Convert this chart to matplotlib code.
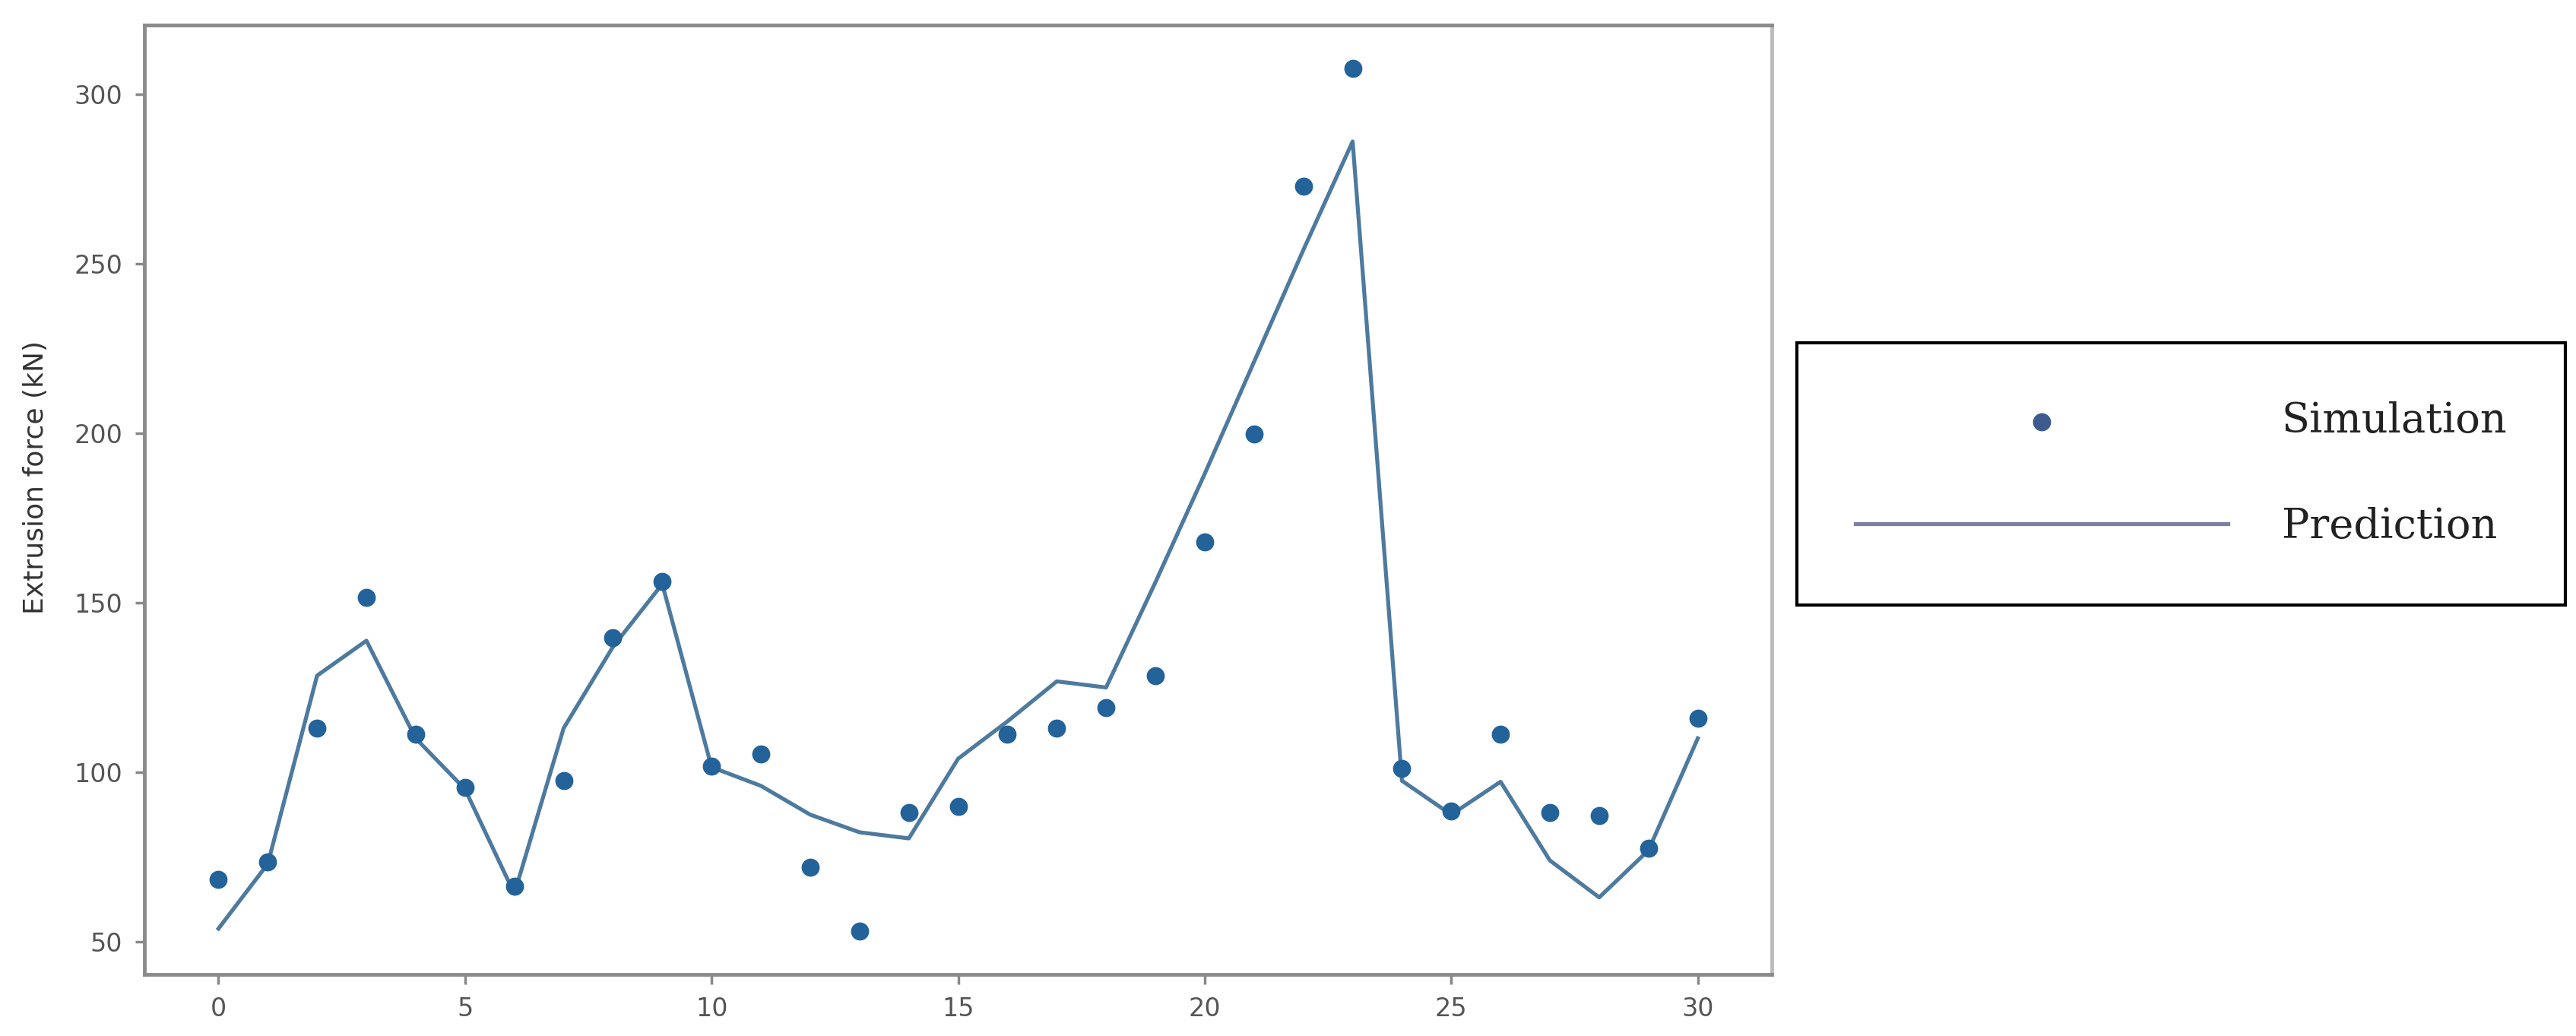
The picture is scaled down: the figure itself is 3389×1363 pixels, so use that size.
import numpy as np
import matplotlib
matplotlib.use("Agg")
from matplotlib import pyplot as plt

# values
step = list(range(31))
simulation = [68.5, 73.6, 113.0, 151.6, 111.3, 95.5, 66.3, 97.6, 139.6, 156.3,
              101.9, 105.4, 71.9, 53.1, 88.2, 90.0, 111.3, 113.1, 119.1, 128.5,
              167.9, 199.7, 272.7, 307.6, 101.1, 88.6, 111.3, 88.2, 87.3, 77.6,
              116.0]
prediction = [53.9, 73.0, 128.5, 138.8, 110.0, 95.0, 64.2, 113.0, 137.0, 155.5,
              101.5, 96.0, 87.5, 82.3, 80.5, 104.0, 115.0, 126.8, 125.0, 156.0,
              188.0, 221.0, 254.0, 286.0, 97.5, 87.5, 97.2, 74.0, 63.1, 77.0,
              110.0]
xticks = [0, 5, 10, 15, 20, 25, 30]
yticks = [50, 100, 150, 200, 250, 300]

fig = plt.figure(figsize=(33.89, 13.63), dpi=100)
ax = fig.add_axes([0.0561, 0.0594, 0.6317, 0.9164])

ax.scatter(step, simulation, s=260, color="#23639a", zorder=3, label="Simulation")
ax.plot(step, prediction, color="#4d7a9e", lw=3.75, zorder=2, label="Prediction")

ax.set_xticks(xticks)
ax.set_yticks(yticks)
ax.tick_params(labelsize=24, labelcolor="#555555", color="#888888",
               length=9, width=2.5, pad=12)

ax.set_ylabel("Extrusion force (kN)", fontsize=26, color="#333333")
ax.yaxis.set_label_coords(-0.059, 0.524)

for side in ["left", "top", "bottom"]:
    ax.spines[side].set_color("#8a8a8a")
    ax.spines[side].set_linewidth(3.5)
ax.spines["right"].set_color("#bcbcbc")
ax.spines["right"].set_linewidth(3.5)

h, l = ax.get_legend_handles_labels()
leg = fig.legend(h, l, loc="center", bbox_to_anchor=(0.8468, 0.5425),
                 prop={"family": "DejaVu Serif", "size": 39},
                 handlelength=9.04, handletextpad=1.31, borderpad=1.42,
                 labelspacing=1.6, fancybox=False, framealpha=1,
                 edgecolor="black", scatterpoints=1, markerscale=1.0)
leg.get_frame().set_linewidth(3.0)
for t in leg.get_texts():
    t.set_color("#222222")
leg.legend_handles[0].set_color("#3d5b8f")
leg.legend_handles[1].set_color("#7a80a0")

fig.savefig("out.png", dpi=100)
